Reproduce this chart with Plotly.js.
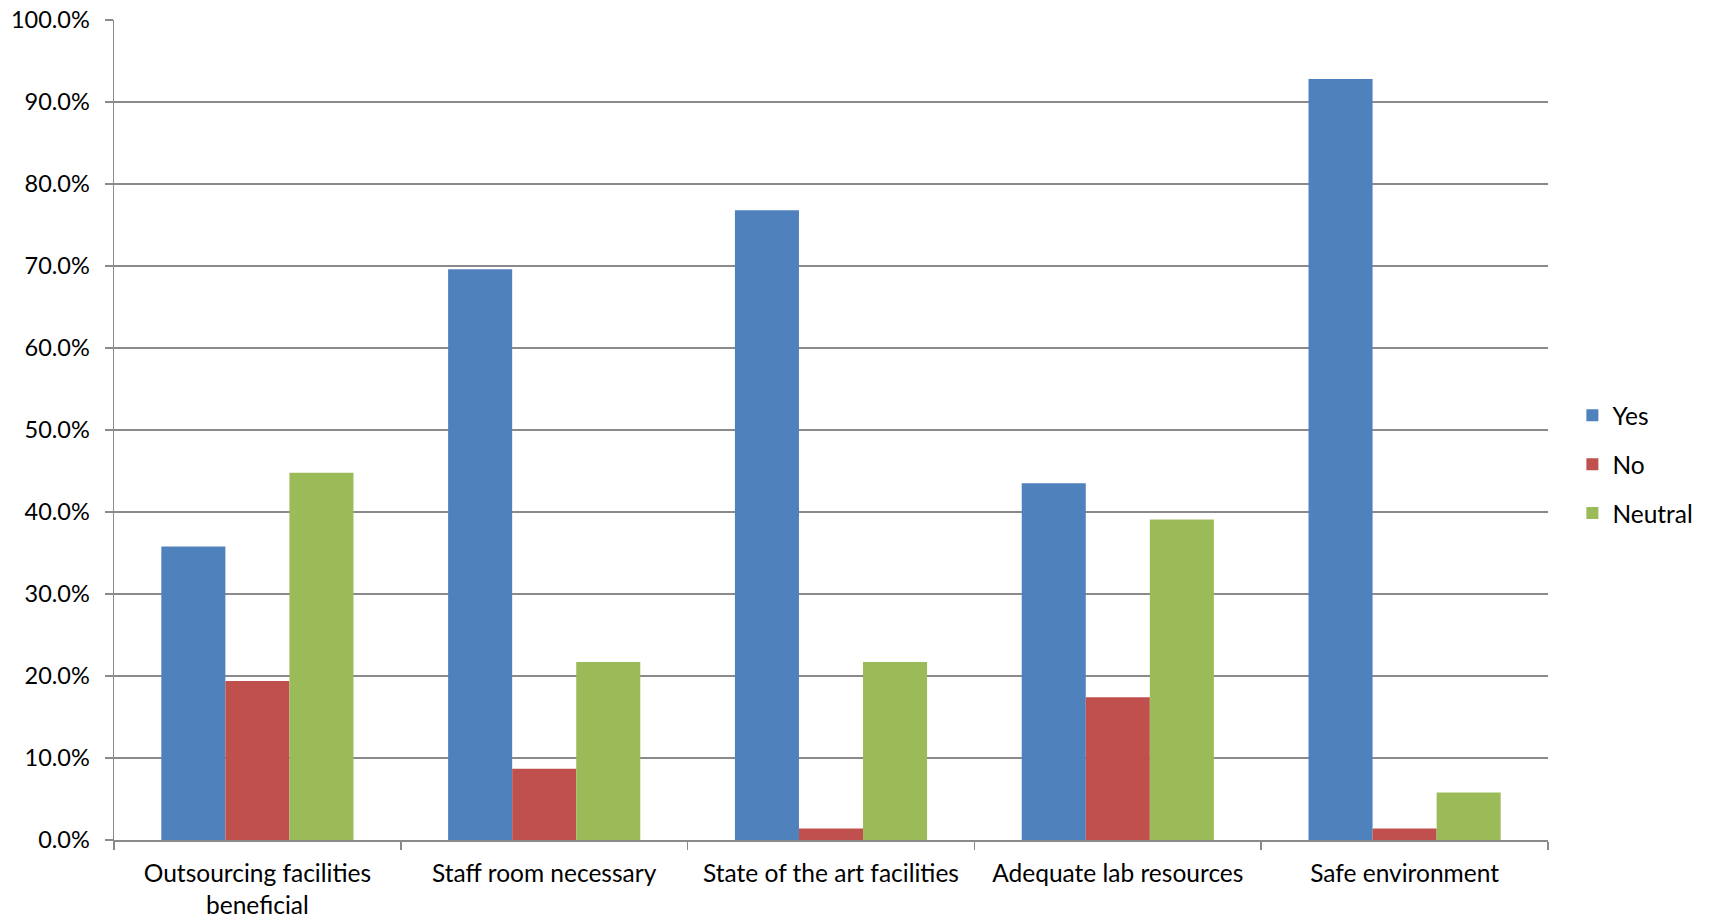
<!DOCTYPE html>
<html>
<head>
<meta charset="utf-8">
<script src="https://cdn.plot.ly/plotly-3.0.1.min.js"></script>
<style>
  html, body { margin: 0; padding: 0; background: #fff; }
  #chart { width: 1709px; height: 921px; }
</style>
</head>
<body>
<div id="chart"></div>
<script>
// Survey statements and the share of answers per response (percent)
const categories = [
  'Outsourcing facilities<br>beneficial',
  'Staff room necessary',
  'State of the art facilities',
  'Adequate lab resources',
  'Safe environment'
];
const yesValues     = [35.8, 69.6, 76.8, 43.5, 92.8];
const noValues      = [19.4, 8.7, 1.4, 17.4, 1.4];
const neutralValues = [44.8, 21.7, 21.7, 39.1, 5.8];

const seriesNames  = ['Yes', 'No', 'Neutral'];
const seriesColors = ['#4F81BD', '#C0504D', '#9BBB59'];
const seriesValues = [yesValues, noValues, neutralValues];

const traces = seriesValues.map((vals, i) => ({
  type: 'bar',
  name: seriesNames[i],
  legendgroup: seriesNames[i],
  x: categories,
  y: vals,
  marker: { color: seriesColors[i], line: { width: 0 } },
  hovertemplate: '%{y:.1f}%<extra>' + seriesNames[i] + '</extra>'
}));

const gridColor = '#8a8a8a';
const textFont = { family: 'Lato, "Open Sans", sans-serif', size: 24.5, color: '#000' };
const yTickFont = { family: 'Lato, "Open Sans", sans-serif', size: 23.5, color: '#000' };

const layout = {
  width: 1709,
  height: 921,
  margin: { l: 114, r: 161, t: 20, b: 81, autoexpand: false },
  paper_bgcolor: '#fff',
  plot_bgcolor: '#fff',
  font: textFont,
  barmode: 'group',
  bargap: 0.33,
  bargroupgap: 0,
  showlegend: true,
  legend: {
    x: 1.017, xanchor: 'left',
    y: 0.458, yanchor: 'middle',
    font: textFont,
    tracegroupgap: 14,
    bgcolor: 'rgba(0,0,0,0)'
  },
  xaxis: {
    type: 'category',
    tickson: 'boundaries',
    ticks: 'outside',
    ticklen: 8,
    tickwidth: 1.5,
    tickcolor: gridColor,
    showline: true,
    linecolor: gridColor,
    linewidth: 1.5,
    showgrid: false,
    tickfont: textFont,
    ticklabelstandoff: 11,
    automargin: false
  },
  yaxis: {
    range: [0, 100],
    dtick: 10,
    tickformat: '.1f',
    ticksuffix: '%',
    ticks: 'outside',
    ticklen: 8,
    tickwidth: 1.5,
    tickcolor: gridColor,
    showline: true,
    linecolor: gridColor,
    linewidth: 1.5,
    showgrid: true,
    gridcolor: gridColor,
    gridwidth: 1.5,
    zeroline: false,
    tickfont: yTickFont,
    ticklabelstandoff: 10,
    automargin: false
  }
};

Plotly.newPlot('chart', traces, layout, { displayModeBar: false, staticPlot: true });
</script>
</body>
</html>
